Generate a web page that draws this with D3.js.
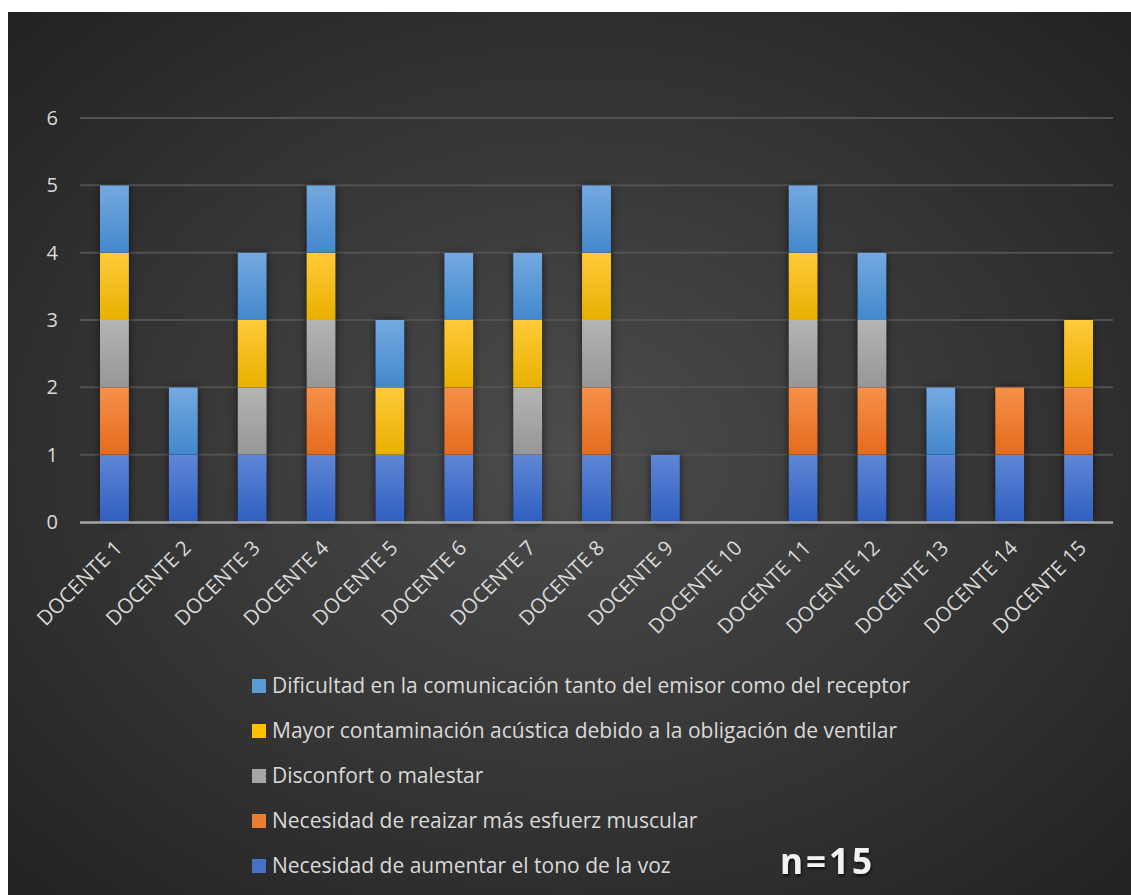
<!DOCTYPE html>
<html>
<head>
<meta charset="utf-8">
<script src="https://cdn.jsdelivr.net/npm/d3@7"></script>
<style>
  body { margin: 0; background: #fff; }
  svg { display: block; }
</style>
</head>
<body>
<svg id="area" width="1131" height="895"></svg>
<script>
const docentes = ['DOCENTE 1', 'DOCENTE 2', 'DOCENTE 3', 'DOCENTE 4', 'DOCENTE 5', 'DOCENTE 6', 'DOCENTE 7', 'DOCENTE 8',
  'DOCENTE 9', 'DOCENTE 10', 'DOCENTE 11', 'DOCENTE 12', 'DOCENTE 13', 'DOCENTE 14', 'DOCENTE 15'];

// bottom to top
const seriesNames = [
  'Necesidad de aumentar el tono de la voz',
  'Necesidad de reaizar más esfuerz muscular',
  'Disconfort o malestar',
  'Mayor contaminación acústica debido a la obligación de ventilar',
  'Dificultad en la comunicación tanto del emisor como del receptor',
];
const tonoVoz      = [1, 1, 1, 1, 1, 1, 1, 1, 1, 0, 1, 1, 1, 1, 1];
const esfuerzo     = [1, 0, 0, 1, 0, 1, 0, 1, 0, 0, 1, 1, 0, 1, 1];
const disconfort   = [1, 0, 1, 1, 0, 0, 1, 1, 0, 0, 1, 1, 0, 0, 0];
const contaminacion = [1, 0, 1, 1, 1, 1, 1, 1, 0, 0, 1, 0, 0, 0, 1];
const dificultad   = [1, 1, 1, 1, 1, 1, 1, 1, 0, 0, 1, 1, 1, 0, 0];
const seriesValues = [tonoVoz, esfuerzo, disconfort, contaminacion, dificultad];
const yTicks = [0, 1, 2, 3, 4, 5, 6];

const colors = [
  ['#5f87d6', '#2f5fc0'],
  ['#f5904a', '#e56b1c'],
  ['#b4b4b4', '#969696'],
  ['#ffca3a', '#e8b000'],
  ['#74a9e0', '#4388cc'],
];
const legendColors = ['#4472c4', '#ed7d31', '#a5a5a5', '#ffc000', '#5b9bd5'];

const svg = d3.select('#area');
const defs = svg.append('defs');

const bg = defs.append('radialGradient').attr('id', 'bg')
  .attr('cx', '50%').attr('cy', '50%').attr('r', '70%');
bg.append('stop').attr('offset', '0%').attr('stop-color', '#4c4c4c');
bg.append('stop').attr('offset', '100%').attr('stop-color', '#222');

colors.forEach((c, i) => {
  const g = defs.append('linearGradient').attr('id', `g${i}`)
    .attr('x1', 0).attr('y1', 0).attr('x2', 0).attr('y2', 1);
  g.append('stop').attr('offset', '0%').attr('stop-color', c[0]);
  g.append('stop').attr('offset', '100%').attr('stop-color', c[1]);
});

const shadow = defs.append('filter').attr('id', 'shadow')
  .attr('x', '-50%').attr('y', '-10%').attr('width', '200%').attr('height', '130%');
shadow.append('feDropShadow').attr('dx', 0).attr('dy', 1).attr('stdDeviation', 4)
  .attr('flood-color', '#000').attr('flood-opacity', 0.6);

const txtShadow = defs.append('filter').attr('id', 'tshadow');
txtShadow.append('feDropShadow').attr('dx', 1).attr('dy', 2).attr('stdDeviation', 1.5)
  .attr('flood-color', '#000').attr('flood-opacity', 0.7);

svg.append('rect').attr('x', 8).attr('y', 12).attr('width', 1123).attr('height', 883)
  .attr('fill', 'url(#bg)');

const x = d3.scaleBand().domain(docentes).range([80, 1113]).paddingInner(0.58).paddingOuter(0.29);
const y = d3.scaleLinear().domain([0, 6]).range([522, 118]);

// grid
svg.append('g').selectAll('line').data(yTicks.filter((t) => t > 0)).join('line')
  .attr('x1', 80).attr('x2', 1113)
  .attr('y1', (d) => y(d)).attr('y2', (d) => y(d))
  .attr('stroke', '#525252').attr('stroke-width', 2);

svg.append('g').selectAll('text').data(yTicks).join('text')
  .attr('x', 58).attr('y', (d) => y(d)).attr('dy', '0.35em')
  .attr('text-anchor', 'end')
  .attr('font-family', 'Open Sans, sans-serif').attr('font-size', 20)
  .attr('fill', '#d9d9d9')
  .text((d) => d);

const rows = docentes.map((d, i) => {
  const r = { docente: d };
  seriesNames.forEach((s, j) => { r[s] = seriesValues[j][i]; });
  return r;
});
const stacked = d3.stack().keys(seriesNames)(rows);

// shadow under each full bar
svg.append('g').selectAll('rect').data(rows).join('rect')
  .attr('x', (d) => x(d.docente)).attr('width', x.bandwidth())
  .attr('y', (d) => y(d3.sum(seriesNames, (s) => d[s])))
  .attr('height', (d) => y(0) - y(d3.sum(seriesNames, (s) => d[s])))
  .attr('fill', '#000').attr('filter', 'url(#shadow)');

svg.append('g').selectAll('g').data(stacked).join('g')
  .attr('fill', (d, i) => `url(#g${i})`)
  .selectAll('rect').data((d) => d.filter((p) => p[1] > p[0])).join('rect')
  .attr('x', (d) => x(d.data.docente))
  .attr('width', x.bandwidth())
  .attr('y', (d) => y(d[1]))
  .attr('height', (d) => y(d[0]) - y(d[1]));

// axis line
svg.append('line').attr('x1', 80).attr('x2', 1113).attr('y1', y(0) + 0.5).attr('y2', y(0) + 0.5)
  .attr('stroke', '#a6a6a6').attr('stroke-width', 2.5);

svg.append('g').selectAll('text').data(docentes).join('text')
  .attr('transform', (d) => `translate(${x(d) + x.bandwidth() / 2 + 4},${y(0) + 22}) rotate(-45)`)
  .attr('text-anchor', 'end')
  .attr('dy', '0.35em')
  .attr('font-family', 'Open Sans, sans-serif').attr('font-size', 20.5)
  .attr('fill', '#d9d9d9')
  .text((d) => d);

// legend, top item is last series
const legendOrder = seriesNames.map((s, i) => i).reverse();
const legend = svg.append('g').selectAll('g').data(legendOrder).join('g')
  .attr('transform', (d, k) => `translate(252,${686 + k * 45})`);
legend.append('rect').attr('x', 0).attr('y', -7).attr('width', 14).attr('height', 14)
  .attr('fill', (d) => legendColors[d]);
legend.append('text').attr('x', 20).attr('dy', '0.35em')
  .attr('font-family', 'Open Sans, sans-serif').attr('font-size', 21)
  .attr('fill', '#d9d9d9')
  .text((d) => seriesNames[d]);

svg.append('text').attr('x', 780).attr('y', 874)
  .attr('font-family', 'Open Sans, sans-serif').attr('font-weight', 'bold')
  .attr('font-size', 35).attr('letter-spacing', 3)
  .attr('fill', '#f2f2f2').attr('filter', 'url(#tshadow)')
  .text('n=15');
</script>
</body>
</html>
